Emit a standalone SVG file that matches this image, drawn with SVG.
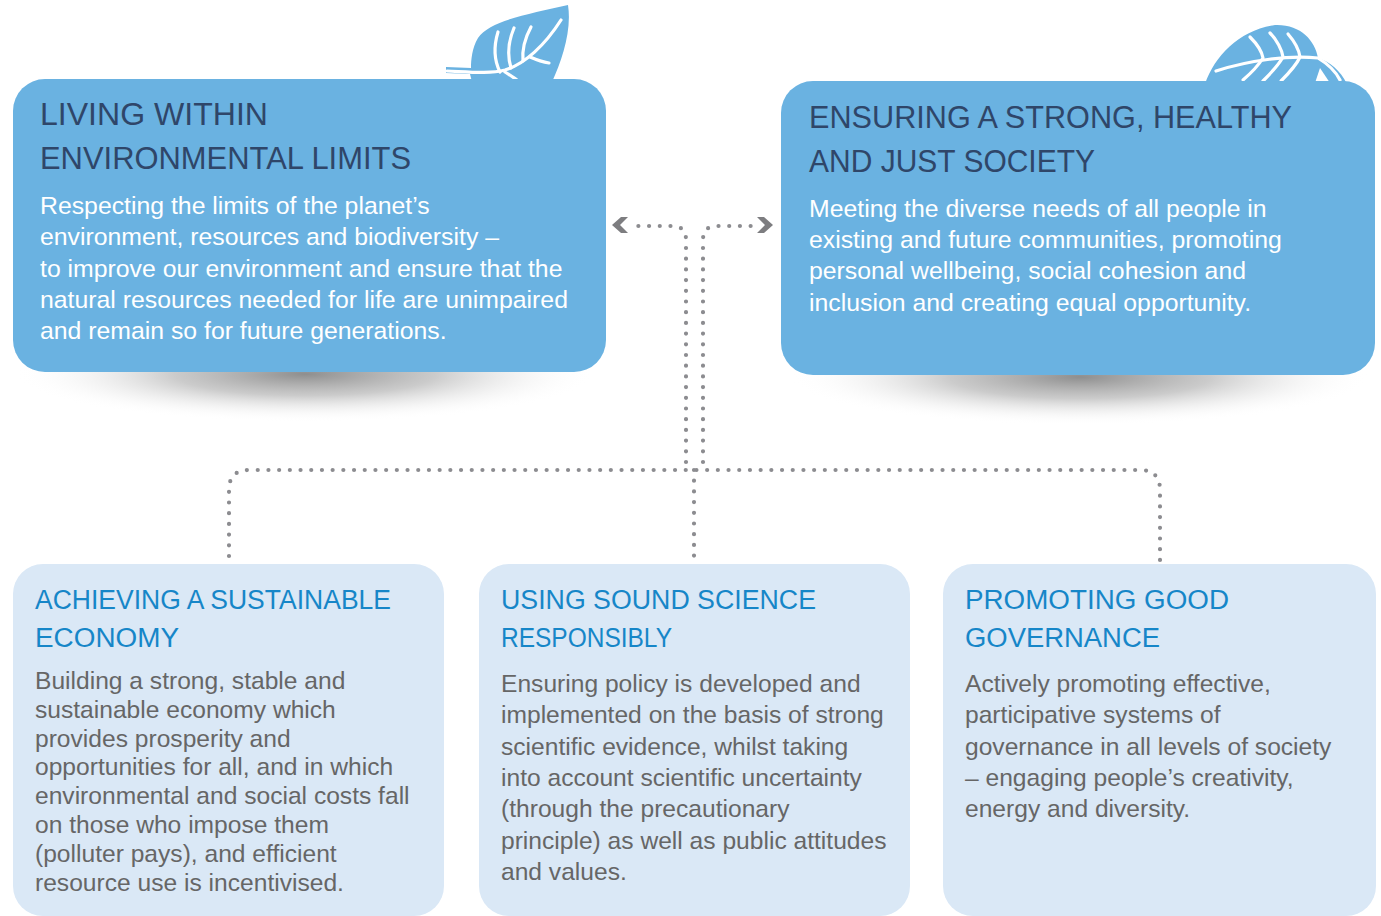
<svg xmlns="http://www.w3.org/2000/svg" width="1381" height="916" viewBox="0 0 1381 916">
<style>
.top{fill:#6ab2e1}
.bot{fill:#dae8f6}
.leaf{fill:#6ab2e1}
.vein{fill:none;stroke:#fff;stroke-width:3.2;stroke-linecap:round}
.t1{font-family:"Liberation Sans",Arial,sans-serif;font-size:31px;fill:#2f4669}
.b1{font-family:"Liberation Sans",Arial,sans-serif;font-size:24.8px;fill:#fff}
.t2{font-family:"Liberation Sans",Arial,sans-serif;font-size:27px;fill:#1686c8}
.b2{font-family:"Liberation Sans",Arial,sans-serif;font-size:24.6px;fill:#666}
.dot{fill:none;stroke:#8c8c90;stroke-width:4.2;stroke-dasharray:0 10.7;stroke-linecap:round}
.chev{fill:#7d7d80}
</style>
<defs>
<radialGradient id="sh" cx="0.5" cy="0.5" r="0.5">
<stop offset="0" stop-color="#8e8e8e" stop-opacity="1"/>
<stop offset="0.45" stop-color="#b5b5b5" stop-opacity="0.7"/>
<stop offset="1" stop-color="#ffffff" stop-opacity="0"/>
</radialGradient>
</defs>
<rect width="1381" height="916" fill="#fff"/>

<g id="connectors">
<path class="dot" d="M686,462 V240 Q686,226 672,226 H628"/>
<path class="dot" d="M703,462 V240 Q703,226 717,226 H758"/>
<path class="dot" d="M229,556 V490 Q229,470 249,470 H1140 Q1160,470 1160,490 V562"/>
<path class="dot" d="M694,470 V556"/>
<polygon class="chev" points="621,217 628,217 620,225 628,233 621,233 612,225"/>
<polygon class="chev" points="764,217 757,217 765,225 757,233 764,233 773,225"/>
</g>

<g id="node-environment">
<ellipse cx="305" cy="374" rx="290" ry="48" fill="url(#sh)"/>
<g id="leaf-left">
<path class="leaf" d="M568,5 C530,14 490,20 478,38 C472,48 471,60 471,68 L446,67 L446,73 L470,74 L472,82 L552,82 C562,60 572,30 568,5 Z"/>
<path class="vein" d="M447,71 C470,72 490,74 505,70 C525,64 545,45 561,20"/>
<path class="vein" d="M500,72 C494,60 494,45 498,32"/>
<path class="vein" d="M511,68 C507,55 509,40 514,28"/>
<path class="vein" d="M523,61 C522,50 525,38 531,27"/>
<path class="vein" d="M530,57 C537,60 543,62 549,63"/>
<path class="vein" d="M505,72 C510,75 514,78 517,80"/>
</g>
<rect class="top" x="13" y="79" width="593" height="293" rx="32" ry="32"/>
<text class="t1" x="40" y="125" textLength="228" lengthAdjust="spacingAndGlyphs">LIVING WITHIN</text>
<text class="t1" x="40" y="169" textLength="371" lengthAdjust="spacingAndGlyphs">ENVIRONMENTAL LIMITS</text>
<text class="b1" x="40" y="214">Respecting the limits of the planet’s</text>
<text class="b1" x="40" y="245">environment, resources and biodiversity –</text>
<text class="b1" x="40" y="277">to improve our environment and ensure that the</text>
<text class="b1" x="40" y="308">natural resources needed for life are unimpaired</text>
<text class="b1" x="40" y="339">and remain so for future generations.</text>
</g>

<g id="node-society">
<ellipse cx="1080" cy="377" rx="290" ry="48" fill="url(#sh)"/>
<g id="leaf-right">
<path class="leaf" d="M1205,84 C1215,55 1240,30 1275,25 C1300,24 1315,40 1318,58 C1330,62 1340,70 1347,84 Z"/>
<path class="vein" d="M1216,71 C1250,60 1290,55 1318,58 C1328,64 1336,72 1340,80"/>
<path class="vein" d="M1250,37 C1257,44 1262,52 1263,58 C1258,66 1250,74 1243,80"/>
<path class="vein" d="M1270,33 C1277,40 1282,50 1283,57 C1278,66 1270,74 1263,81"/>
<path class="vein" d="M1288,34 C1295,42 1299,50 1300,57 C1296,66 1288,74 1281,81"/>
<path d="M1315,83 L1320,68 L1330,83 Z" fill="#fff"/>
</g>
<rect class="top" x="781" y="81" width="594" height="294" rx="32" ry="32"/>
<text class="t1" x="809" y="128" textLength="483" lengthAdjust="spacingAndGlyphs">ENSURING A STRONG, HEALTHY</text>
<text class="t1" x="809" y="172" textLength="286" lengthAdjust="spacingAndGlyphs">AND JUST SOCIETY</text>
<text class="b1" x="809" y="217">Meeting the diverse needs of all people in</text>
<text class="b1" x="809" y="248">existing and future communities, promoting</text>
<text class="b1" x="809" y="279">personal wellbeing, social cohesion and</text>
<text class="b1" x="809" y="311">inclusion and creating equal opportunity.</text>
</g>

<g id="node-economy">
<rect class="bot" x="13" y="564" width="431" height="352" rx="30" ry="30"/>
<text class="t2" x="35" y="609" textLength="356" lengthAdjust="spacingAndGlyphs">ACHIEVING A SUSTAINABLE</text>
<text class="t2" x="35" y="647" textLength="144" lengthAdjust="spacingAndGlyphs">ECONOMY</text>
<text class="b2" x="35" y="689">Building a strong, stable and</text>
<text class="b2" x="35" y="718">sustainable economy which</text>
<text class="b2" x="35" y="747">provides prosperity and</text>
<text class="b2" x="35" y="775">opportunities for all, and in which</text>
<text class="b2" x="35" y="804">environmental and social costs fall</text>
<text class="b2" x="35" y="833">on those who impose them</text>
<text class="b2" x="35" y="862">(polluter pays), and efficient</text>
<text class="b2" x="35" y="891">resource use is incentivised.</text>
</g>

<g id="node-science">
<rect class="bot" x="479" y="564" width="431" height="352" rx="30" ry="30"/>
<text class="t2" x="501" y="609" textLength="315" lengthAdjust="spacingAndGlyphs">USING SOUND SCIENCE</text>
<text class="t2" x="501" y="647" textLength="171" lengthAdjust="spacingAndGlyphs">RESPONSIBLY</text>
<text class="b2" x="501" y="692">Ensuring policy is developed and</text>
<text class="b2" x="501" y="723">implemented on the basis of strong</text>
<text class="b2" x="501" y="755">scientific evidence, whilst taking</text>
<text class="b2" x="501" y="786">into account scientific uncertainty</text>
<text class="b2" x="501" y="817">(through the precautionary</text>
<text class="b2" x="501" y="849">principle) as well as public attitudes</text>
<text class="b2" x="501" y="880">and values.</text>
</g>

<g id="node-governance">
<rect class="bot" x="943" y="564" width="433" height="352" rx="30" ry="30"/>
<text class="t2" x="965" y="609" textLength="264" lengthAdjust="spacingAndGlyphs">PROMOTING GOOD</text>
<text class="t2" x="965" y="647" textLength="195" lengthAdjust="spacingAndGlyphs">GOVERNANCE</text>
<text class="b2" x="965" y="692">Actively promoting effective,</text>
<text class="b2" x="965" y="723">participative systems of</text>
<text class="b2" x="965" y="755">governance in all levels of society</text>
<text class="b2" x="965" y="786">– engaging people’s creativity,</text>
<text class="b2" x="965" y="817">energy and diversity.</text>
</g>
</svg>
